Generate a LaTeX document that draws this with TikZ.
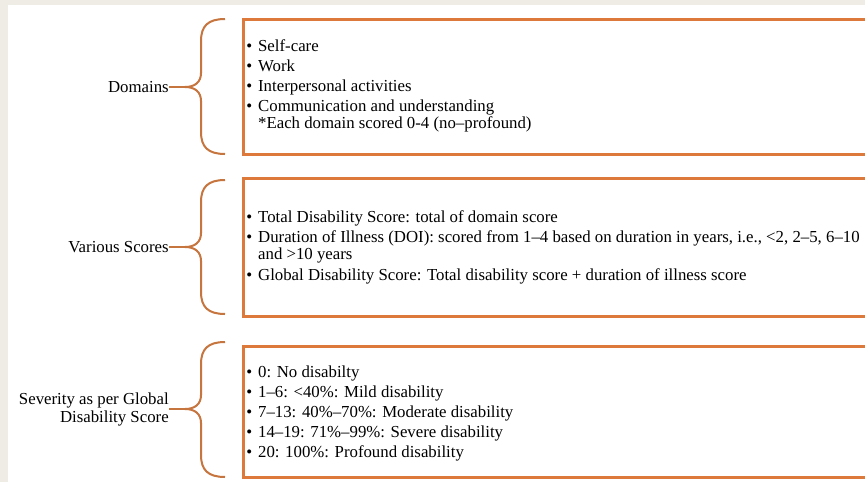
\documentclass[tikz,border=0pt]{standalone}
\usepackage{fontspec}
\setmainfont{Liberation Serif}
\definecolor{panelorange}{RGB}{222,121,60}
\definecolor{braceorange}{RGB}{199,117,62}
\definecolor{paper}{RGB}{239,236,229}

% curly brace opening to the right: name of tip, top y, tip y, bottom y
\newcommand{\sidebrace}[4]{%
  \coordinate (#1) at (185,#3);
  \draw[bracestroke] (225,#2) .. controls (208,#2) and (201,{#2+7}) .. (201,{#2+22})
    -- (201,{#3-14}) .. controls (201,{#3-5}) and (195,#3) .. (#1)
    .. controls (195,#3) and (201,{#3+5}) .. (201,{#3+14})
    -- (201,{#4-22}) .. controls (201,{#4-7}) and (208,#4) .. (225,#4);
}
\newcommand{\bul}{\textbullet}

\begin{document}
\begin{tikzpicture}[x=0.75pt,y=-0.75pt,
  panel/.style={draw=panelorange,line width=2.25pt},
  bracestroke/.style={draw=braceorange,line width=1.5pt},
  label/.style={anchor=east,inner sep=0pt,align=right,
    font=\fontsize{12.6}{13.5}\selectfont},
  listtext/.style={anchor=base west,inner sep=0pt,
    font=\fontsize{12.6}{15}\selectfont}]
\useasboundingbox (0,0) rectangle (865,482);
\fill[paper] (0,0) rectangle (865,482);
\fill[white] (8,5) rectangle (865,482);
\clip (0,0) rectangle (865,482);

% outlined panels, running off the right edge
\draw[panel] (243,19) rectangle (880,154);
\draw[panel] (243,178) rectangle (880,316);
\draw[panel] (243,346) rectangle (880,477);

% braces
\sidebrace{tipA}{19}{87}{154}
\sidebrace{tipB}{180}{247}{314}
\sidebrace{tipC}{342}{409}{477}

% left-hand labels
\node[label] (domains) at (169,87) {Domains};
\node[label] (scores) at (169,247) {Various Scores};
\node[label] (severity) at (169,409) {Severity as per Global\\Disability Score};
\draw[bracestroke] (domains.east) -- (tipA);
\draw[bracestroke] (scores.east) -- (tipB);
\draw[bracestroke] (severity.east) -- (tipC);

% panel contents
\node[listtext] (listA) at (246,51) {%
  \begin{tabular}[t]{@{}l@{\hspace{4.5pt}}l@{}}
  \bul & Self-care\\
  \bul & Work\\
  \bul & Interpersonal activities\\
  \bul & Communication and understanding\\[-2.25pt]
       & *Each domain scored 0-4 (no--profound)
  \end{tabular}};
\node[listtext] (listB) at (246,222) {%
  \begin{tabular}[t]{@{}l@{\hspace{4.5pt}}l@{}}
  \bul & Total Disability Score: total of domain score\\
  \bul & Duration of Illness (DOI): scored from 1--4 based on duration in years, i.e., <2, 2--5, 6--10\\[-2.25pt]
       & and >10 years\\[0.75pt]
  \bul & Global Disability Score: Total disability score + duration of illness score
  \end{tabular}};
\node[listtext] (listC) at (246,377) {%
  \begin{tabular}[t]{@{}l@{\hspace{4.5pt}}l@{}}
  \bul & 0: No disabilty\\
  \bul & 1--6: <40\%: Mild disability\\
  \bul & 7--13: 40\%--70\%: Moderate disability\\
  \bul & 14--19: 71\%--99\%: Severe disability\\
  \bul & 20: 100\%: Profound disability
  \end{tabular}};
\end{tikzpicture}
\end{document}
